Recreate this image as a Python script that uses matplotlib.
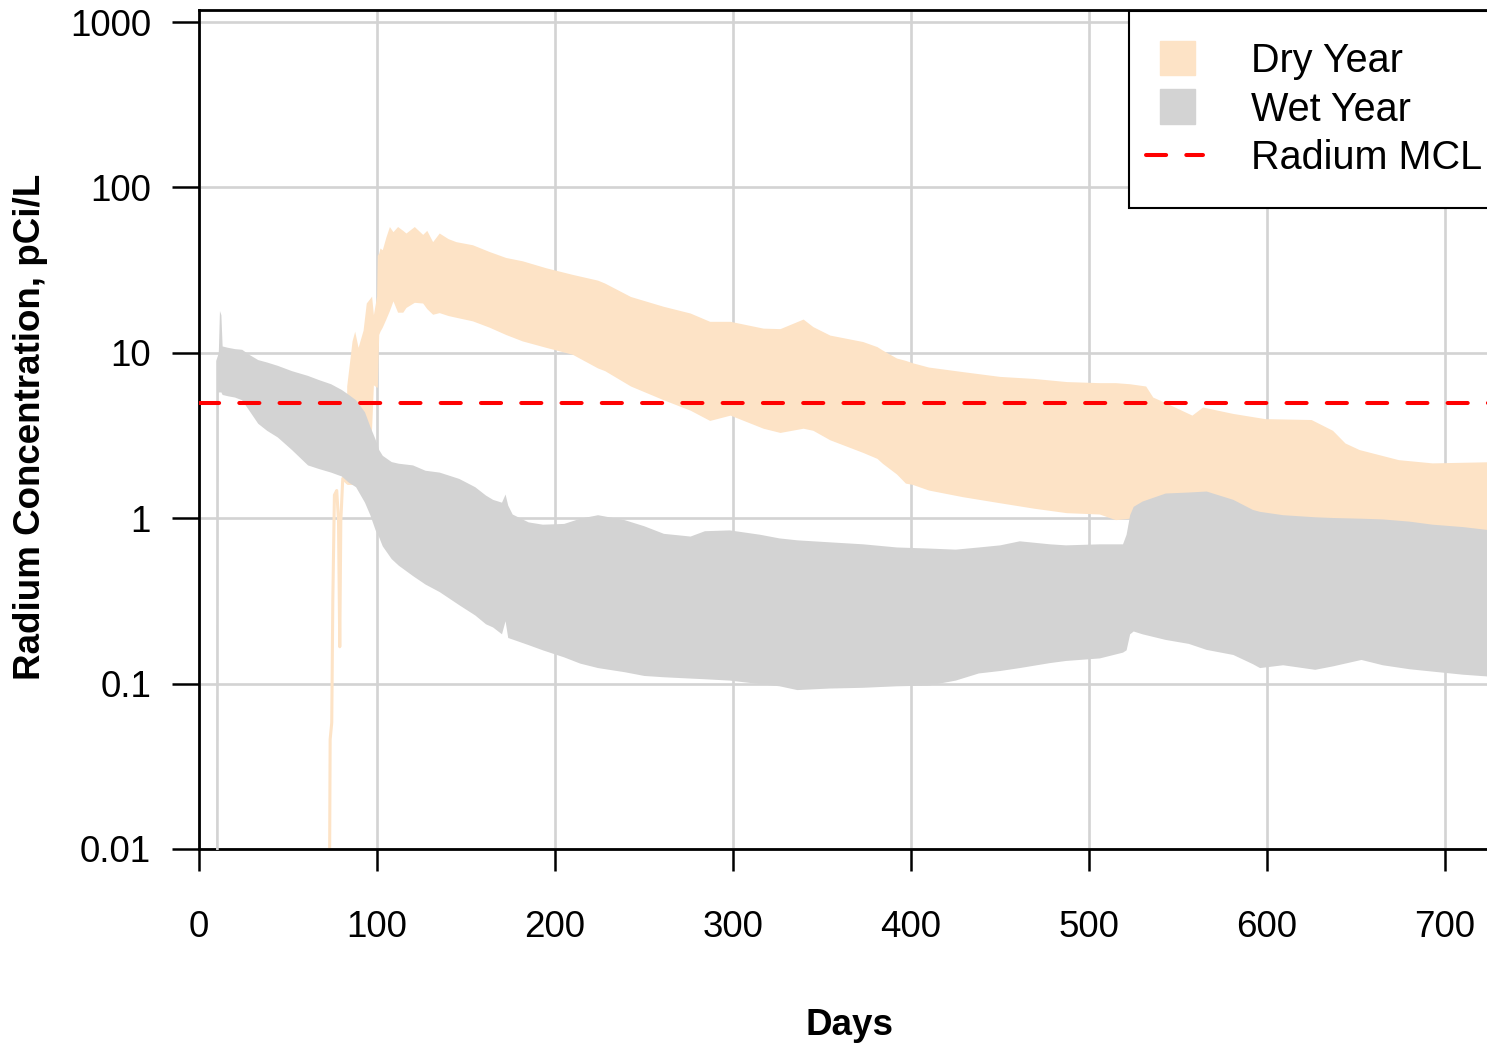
# %% Libs:
import numpy as np
import matplotlib
matplotlib.use('Agg')
import matplotlib.pyplot as plt
from matplotlib.patches import Patch, Rectangle
from matplotlib.lines import Line2D
from matplotlib.legend_handler import HandlerPatch

plt.rcParams['font.family'] = ['Liberation Sans', 'DejaVu Sans']

# %% Data: daily min / max envelope of radium [pCi/L]
wet_days = [9.3, 9.4, 10.8, 10.9, 11.5, 12.3, 13.0, 16, 20, 24, 28, 33, 38, 44, 52, 61, 67, 74, 80, 84,
            88, 93, 96, 99, 101, 103, 108, 112, 120, 127, 135, 146, 155, 161, 165, 170, 172, 173.5, 176, 185,
            193, 205, 214, 224, 239, 250, 261, 276, 284, 298, 315, 326, 336, 354, 373, 392, 410, 425, 438, 450,
            461, 478, 487, 506, 519, 521, 523, 525, 530, 543, 556, 566, 581, 592, 596, 609, 627, 637, 653, 665,
            680, 693, 710, 730]
wet_min = [0.005, 0.005, 0.005, 5.8, 5.8, 5.8, 5.6, 5.5, 5.4, 5.2, 4.5, 3.75, 3.4, 3.1, 2.6, 2.1, 2.0, 1.9, 1.8, 1.65,
           1.55, 1.25, 1.05, 0.85, 0.77, 0.68, 0.57, 0.52, 0.45, 0.40, 0.36, 0.30, 0.26, 0.23, 0.22, 0.20, 0.24, 0.19, 0.186, 0.172,
           0.160, 0.145, 0.133, 0.125, 0.118, 0.112, 0.110, 0.108, 0.107, 0.105, 0.100, 0.097, 0.092, 0.094, 0.095, 0.097, 0.098, 0.105, 0.116, 0.120,
           0.125, 0.134, 0.138, 0.143, 0.155, 0.160, 0.200, 0.208, 0.200, 0.185, 0.175, 0.161, 0.150, 0.132, 0.125, 0.130, 0.122, 0.128, 0.140, 0.130,
           0.123, 0.119, 0.114, 0.110]
wet_max = [0.005, 9.0, 10.0, 10.5, 18.0, 17.0, 11.0, 10.8, 10.6, 10.5, 9.8, 9.1, 8.8, 8.4, 7.8, 7.3, 6.9, 6.5, 6.0, 5.6,
           5.2, 4.4, 3.6, 3.0, 2.6, 2.4, 2.2, 2.15, 2.1, 1.95, 1.9, 1.74, 1.55, 1.38, 1.30, 1.25, 1.40, 1.2, 1.06, 0.95,
           0.92, 0.93, 1.0, 1.05, 0.98, 0.90, 0.81, 0.78, 0.84, 0.85, 0.80, 0.76, 0.74, 0.72, 0.70, 0.67, 0.66, 0.65, 0.67, 0.69,
           0.73, 0.70, 0.69, 0.70, 0.70, 0.80, 1.05, 1.18, 1.27, 1.42, 1.44, 1.46, 1.30, 1.13, 1.10, 1.05, 1.02, 1.01, 1.00, 0.99,
           0.96, 0.92, 0.89, 0.84]

dry_days = [83, 86, 87.5, 89.4, 92.2, 94, 97, 98, 99.8, 100.2, 101, 101.7, 103, 105, 107, 109, 111.6, 114.5, 116.3, 121,
            125.7, 128, 131.3, 135, 140, 144.4, 153.7, 163, 172.4, 181.7, 194.8, 209.8, 224, 228, 242.5, 261, 276, 287, 298.5, 317,
            326.5, 339.5, 345, 354.5, 373, 381, 384, 392, 397, 401, 410, 429, 450, 469, 487.5, 506, 515, 523, 532, 536,
            543, 558, 564, 581, 599, 625, 637, 644, 652, 674, 693, 730]
dry_min = [1.6, 1.6, 1.6, 1.7, 1.8, 2.0, 3.5, 6.4, 6.2, 6.2, 12.9, 13.5, 14.3, 16, 18, 20.6, 17.6, 17.6, 18.8, 20.2,
           20, 18.5, 17.1, 17.5, 16.8, 16.4, 15.6, 14.3, 12.9, 11.8, 10.8, 9.8, 8.1, 7.8, 6.3, 5.2, 4.5, 3.9, 4.2, 3.5,
           3.3, 3.5, 3.4, 2.98, 2.5, 2.3, 2.15, 1.85, 1.63, 1.6, 1.48, 1.35, 1.24, 1.15, 1.08, 1.06, 0.98, 1.0, 0.9, 0.9,
           0.9, 0.9, 0.9, 0.9, 0.9, 0.9, 0.9, 0.9, 0.88, 0.86, 0.85, 0.82]
dry_max = [6.3, 11.8, 13.5, 10.8, 13.7, 20, 22, 17, 22, 39, 40, 43, 42, 50, 58, 54, 58, 55, 53, 58,
           52, 55, 47, 53, 49, 47, 45, 41, 37.7, 36, 32.7, 29.8, 27.5, 26.4, 21.9, 19.1, 17.4, 15.5, 15.5, 14.1,
           14, 16, 14.4, 12.8, 11.7, 10.9, 10.4, 9.3, 9.0, 8.7, 8.2, 7.7, 7.2, 7.0, 6.7, 6.6, 6.6, 6.5, 6.3, 5.4,
           5.0, 4.2, 4.7, 4.3, 4.0, 3.95, 3.4, 2.85, 2.6, 2.26, 2.16, 2.2]

# start-up of the dry year run (single trace before the envelope starts)
dry_start_days = [73.3, 73.7, 74.6, 75.2, 76.1, 77.4, 78.4, 79.1, 79.7, 80.8, 83]
dry_start_vals = [0.005, 0.046, 0.058, 0.32, 1.38, 1.47, 0.97, 0.167, 0.97, 1.74, 1.65]

radium_mcl = 5.0

xticks = [0, 100, 200, 300, 400, 500, 600, 700]
yticks = [0.01, 0.1, 1, 10, 100, 1000]
yticks_str = ['0.01', '0.1', '1', '10', '100', '1000']

dry_col = '#FDE3C6'
wet_col = '#D3D3D3'
FontSize = 26.5


# %% legend handlers: square patches, dashed line reaching left of them
def square_patch(legend, orig_handle, xdescent, ydescent, width, height, fontsize):
    s = 0.88*fontsize
    return Rectangle((xdescent, ydescent + height/2 - s/2), s, s)


class DashHandler:
    def legend_artist(self, legend, orig_handle, fontsize, handlebox):
        x0, y0 = handlebox.xdescent, handlebox.ydescent
        w, h = handlebox.width, handlebox.height
        line = Line2D([x0 - 0.35*fontsize, x0 + w], [y0 + h/2, y0 + h/2],
                      color=orig_handle.get_color(), lw=orig_handle.get_linewidth(),
                      ls=(0, (5, 5)), dash_capstyle='round', transform=handlebox.get_transform())
        handlebox.add_artist(line)
        return line


# %% Plot
fig = plt.figure(figsize=(14.87, 10.44), dpi=100)
ax = fig.add_axes([199/1487, 195/1044, 1299/1487, 839/1044])

ax.fill_between(dry_days, dry_min, dry_max, color=dry_col, lw=0, zorder=2)
ax.plot(dry_start_days, dry_start_vals, color=dry_col, lw=2.2, zorder=2)
ax.fill_between(wet_days, wet_min, wet_max, color=wet_col, lw=0, zorder=3)
ax.axhline(radium_mcl, color='red', lw=2.9, ls=(0, (5, 5)), dash_capstyle='round', zorder=4)

ax.set_yscale('log')
ax.set_xlim(0, 730)
ax.set_ylim(0.01, 1182)
ax.set_xticks(xticks)
ax.set_xticklabels([str(x) for x in xticks])
ax.set_yticks(yticks)
ax.set_yticklabels(yticks_str)
ax.yaxis.set_minor_locator(plt.NullLocator())

ax.grid(True, color=wet_col, lw=1.9)
ax.set_axisbelow(True)
for s in ax.spines.values():
    s.set_linewidth(2)
ax.tick_params(axis='y', direction='out', length=19.5, width=1.8, pad=15, labelsize=FontSize)
ax.tick_params(axis='x', direction='out', length=16, width=1.8, pad=28, labelsize=FontSize)

ax.set_ylabel('Radium Concentration, pCi/L', fontsize=26.5, fontweight='bold')
ax.yaxis.set_label_coords(-0.116, 0.503)
ax.set_xlabel('Days', fontsize=26.5, fontweight='bold')
ax.xaxis.set_label_coords(0.501, -0.19)

handles = [Patch(color=dry_col), Patch(color=wet_col), Line2D([], [], color='red', lw=2.9)]
leg = ax.legend(handles, ['Dry Year', 'Wet Year', 'Radium MCL'], loc='upper left',
                bbox_to_anchor=(1129/1487, 1033/1044), bbox_transform=fig.transFigure,
                fontsize=28.5, frameon=True, fancybox=False, framealpha=1, edgecolor='black',
                borderpad=0.78, labelspacing=0.27, handlelength=1.1, handletextpad=1.19, borderaxespad=0,
                handler_map={Patch: HandlerPatch(patch_func=square_patch), Line2D: DashHandler()})
leg.get_frame().set_linewidth(1.5)
leg.set_zorder(10)

plt.savefig('out.png', dpi=100)
